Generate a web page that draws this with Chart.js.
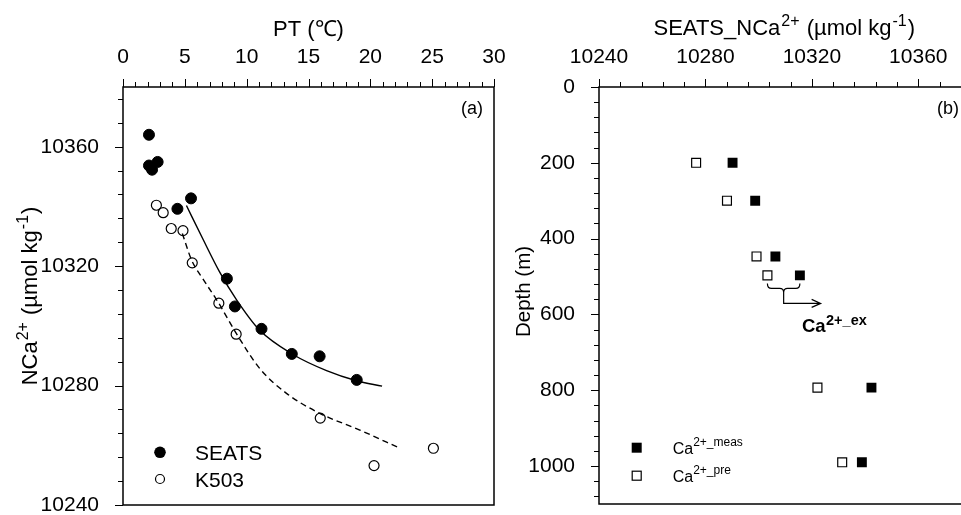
<!DOCTYPE html>
<html>
<head>
<meta charset="utf-8">
<script src="https://cdn.jsdelivr.net/npm/chart.js@4.4.1/dist/chart.umd.min.js"></script>
<style>
  html, body { margin: 0; padding: 0; background: #fff; overflow: hidden; }
  #wrap { position: relative; width: 961px; height: 515px; overflow: hidden; }
  canvas { position: absolute; top: 0; }
  #chartA { left: 0; }
  #chartB { left: 500px; }
</style>
</head>
<body>
<div id="wrap">
  <canvas id="chartA" width="540" height="515"></canvas>
  <canvas id="chartB" width="500" height="515"></canvas>
</div>
<script>
const FONT = '"Liberation Sans", Arial, Helvetica, sans-serif';

// (a) NCa vs potential temperature
const seatsPT  = [2.1, 2.1, 2.35, 2.8, 4.4, 5.5, 8.4, 9.05, 11.2, 13.65, 15.9, 18.9];
const seatsNCa = [10364, 10353.7, 10352.3, 10354.9, 10339.2, 10342.7, 10315.8, 10306.5, 10299, 10290.6, 10289.8, 10281.9];
const k503PT   = [2.7, 3.25, 3.9, 4.85, 5.6, 7.75, 9.15, 15.95, 20.3, 25.1];
const k503NCa  = [10340.4, 10337.9, 10332.6, 10331.9, 10321.1, 10307.6, 10297.2, 10269.1, 10253.2, 10259];
// fitted curves
const fitSeatsPT  = [5.13, 6.47, 7.82, 9.17, 11.06, 13.75, 16.46, 18.88, 20.95];
const fitSeatsNCa = [10340.3, 10329.0, 10318.0, 10308.8, 10298.5, 10290.4, 10285.0, 10281.6, 10279.8];
const fitK503PT   = [4.8, 5.55, 6.5, 7.74, 9.17, 11.06, 13.22, 15.91, 19.15, 22.39];
const fitK503NCa  = [10330.9, 10322.0, 10315.5, 10307.6, 10297.4, 10285.7, 10277.4, 10270.7, 10265.1, 10259.0];
const ptTicks  = [0, 5, 10, 15, 20, 25, 30];
const ncaTicks = [10240, 10280, 10320, 10360];

// (b) measured vs preformed Ca by depth
const depthM = [200, 300, 447, 497, 793, 990];
const caMeas = [10290.2, 10298.7, 10306.3, 10315.5, 10342.4, 10338.8];
const caPre  = [10276.5, 10288.1, 10299.2, 10303.3, 10322.1, 10331.4];
const caTicks    = [10240, 10280, 10320, 10360];
const depthTicks = [0, 200, 400, 600, 800, 1000];

function pts(xs, ys) { return xs.map((x, i) => ({ x: x, y: ys[i] })); }

// draws text made of [text, size, dy, gap] parts
function rich(ctx, parts, x, y, align, weight) {
  weight = weight || 'normal';
  let w = 0;
  parts.forEach(p => { ctx.font = weight + ' ' + p[1] + 'px ' + FONT; w += ctx.measureText(p[0]).width + (p[3] || 0) * 2; });
  let cx = align === 'center' ? x - w / 2 : (align === 'right' ? x - w : x);
  ctx.textAlign = 'left';
  ctx.textBaseline = 'alphabetic';
  ctx.fillStyle = '#000';
  parts.forEach(p => {
    ctx.font = weight + ' ' + p[1] + 'px ' + FONT;
    cx += p[3] || 0;
    ctx.fillText(p[0], cx, y + (p[2] || 0));
    cx += ctx.measureText(p[0]).width + (p[3] || 0);
  });
}

function richUp(ctx, parts, x, y) {
  ctx.save();
  ctx.translate(x, y);
  ctx.rotate(-Math.PI / 2);
  rich(ctx, parts, 0, 0, 'center');
  ctx.restore();
}

// frame + major/minor ticks on top and left axes
function drawFrame(chart, xMinor, xMajor, yMinor, yMajor) {
  const ctx = chart.ctx, a = chart.chartArea;
  const xs = chart.scales.x, ys = chart.scales.y;
  ctx.save();
  ctx.strokeStyle = '#000';
  ctx.lineWidth = 1.5;
  ctx.strokeRect(a.left, a.top, a.right - a.left, a.bottom - a.top);
  ctx.lineWidth = 1;
  ctx.beginPath();
  let n = Math.floor((xs.max - xs.min) / xMinor + 1e-6);
  for (let i = 0; i <= n; i++) {
    const v = xs.min + i * xMinor;
    const big = Math.abs((v - xs.min) % xMajor) < 1e-6;
    const px = Math.round(xs.getPixelForValue(v)) + 0.5;
    ctx.moveTo(px, a.top);
    ctx.lineTo(px, a.top - (big ? 8 : 5));
  }
  n = Math.floor((ys.max - ys.min) / yMinor + 1e-6);
  for (let i = 0; i <= n; i++) {
    const v = ys.min + i * yMinor;
    const big = Math.abs((v - ys.min) % yMajor) < 1e-6;
    const py = Math.round(ys.getPixelForValue(v)) + 0.5;
    ctx.moveTo(a.left, py);
    ctx.lineTo(a.left - (big ? 8 : 5), py);
  }
  ctx.stroke();
  ctx.restore();
}

function axisOpts(pos, min, max, tickVals, size, reverse) {
  return {
    type: 'linear', position: pos, min: min, max: max, reverse: !!reverse,
    grid: { display: false }, border: { display: false },
    afterBuildTicks: s => { s.ticks = tickVals.map(v => ({ value: v })); },
    ticks: { color: '#000', font: { family: FONT, size: 21 }, padding: pos === 'top' ? 9 : 16,
             maxRotation: 0, autoSkip: false, callback: v => String(v) },
    afterFit: s => {
      if (pos === 'top') s.height = size; else s.width = size;
      s.paddingLeft = 0; s.paddingRight = 0; s.paddingTop = 0; s.paddingBottom = 0;
    }
  };
}

Chart.defaults.animation = false;

// ---------- panel (a)
new Chart(document.getElementById('chartA'), {
  type: 'scatter',
  data: {
    datasets: [
      { label: 'fitSeats', data: pts(fitSeatsPT, fitSeatsNCa), showLine: true, pointRadius: 0,
        borderColor: '#000', borderWidth: 1.4, cubicInterpolationMode: 'monotone' },
      { label: 'fitK503', data: pts(fitK503PT, fitK503NCa), showLine: true, pointRadius: 0,
        borderColor: '#000', borderWidth: 1.4, borderDash: [6, 4], cubicInterpolationMode: 'monotone' },
      { label: 'SEATS', data: pts(seatsPT, seatsNCa), pointStyle: 'circle', pointRadius: 5.5,
        backgroundColor: '#000', borderColor: '#000', borderWidth: 1 },
      { label: 'K503', data: pts(k503PT, k503NCa), pointStyle: 'circle', pointRadius: 5,
        backgroundColor: '#fff', borderColor: '#000', borderWidth: 1.2 }
    ]
  },
  options: {
    responsive: false,
    events: [],
    layout: { padding: { left: 0, top: 0, right: 46, bottom: 10 } },
    plugins: { legend: { display: false }, tooltip: { enabled: false } },
    scales: {
      x: axisOpts('top', 0, 30, ptTicks, 87),
      y: axisOpts('left', 10240, 10380, ncaTicks, 123)
    }
  },
  plugins: [{
    id: 'decorA',
    afterDraw(chart) {
      const ctx = chart.ctx, a = chart.chartArea;
      drawFrame(chart, 1, 5, 8, 40);
      rich(ctx, [['PT (℃)', 22]], (a.left + a.right) / 2, a.top - 51, 'center');
      richUp(ctx, [['NCa', 22], ['2+', 16, -9, 1], [' (µmol kg', 22], ['-1', 16, -9, 1], [')', 22]], 37, (a.top + a.bottom) / 2);
      rich(ctx, [['(a)', 18]], a.right - 11, a.top + 27, 'right');
      // legend
      ctx.save();
      ctx.fillStyle = '#000'; ctx.strokeStyle = '#000';
      ctx.beginPath(); ctx.arc(a.left + 37, a.bottom - 52.7, 5.8, 0, Math.PI * 2); ctx.fill();
      ctx.fillStyle = '#fff'; ctx.lineWidth = 1.2;
      ctx.beginPath(); ctx.arc(a.left + 37, a.bottom - 26, 4.5, 0, Math.PI * 2); ctx.fill(); ctx.stroke();
      ctx.restore();
      rich(ctx, [['SEATS', 21]], a.left + 72, a.bottom - 45, 'left');
      rich(ctx, [['K503', 21]], a.left + 72, a.bottom - 18.5, 'left');
    }
  }]
});

// ---------- panel (b)
new Chart(document.getElementById('chartB'), {
  type: 'scatter',
  data: {
    datasets: [
      { label: 'meas', data: pts(caMeas, depthM), pointStyle: 'rect', pointRadius: 7,
        backgroundColor: '#000', borderColor: '#000', borderWidth: 0 },
      { label: 'pre', data: pts(caPre, depthM), pointStyle: 'rect', pointRadius: 6.3,
        backgroundColor: '#fff', borderColor: '#000', borderWidth: 1.2 }
    ]
  },
  options: {
    responsive: false,
    events: [],
    layout: { padding: { left: 0, top: 0, right: 28.5, bottom: 11 } },
    plugins: { legend: { display: false }, tooltip: { enabled: false } },
    scales: {
      x: axisOpts('top', 10240, 10380, caTicks, 87),
      y: axisOpts('left', 0, 1100, depthTicks, 99, true)
    }
  },
  plugins: [{
    id: 'decorB',
    afterDraw(chart) {
      const ctx = chart.ctx, a = chart.chartArea;
      const xs = chart.scales.x, ys = chart.scales.y;
      drawFrame(chart, 8, 40, 40, 200);
      rich(ctx, [['SEATS_NCa', 22], ['2+', 16, -9, 1], [' (µmol kg', 22], ['-1', 16, -9, 1], [')', 22]],
           (a.left + a.right) / 2 - 1, a.top - 52, 'center');
      richUp(ctx, [['Depth (m)', 20.5]], 30, (a.top + a.bottom) / 2 - 4);
      rich(ctx, [['(b)', 18]], a.right - 12.5, a.top + 27, 'right');

      // brace + arrow marking the excess at the 4th level
      const x1 = xs.getPixelForValue(caPre[3]), x2 = xs.getPixelForValue(caMeas[3]);
      const yp = ys.getPixelForValue(depthM[3]);
      const xm = (x1 + x2) / 2, y0 = yp + 8, y1 = yp + 13;
      ctx.save();
      ctx.strokeStyle = '#000'; ctx.lineWidth = 1.2;
      ctx.beginPath();
      ctx.moveTo(x1, y0);
      ctx.quadraticCurveTo(x1, y1, x1 + 4, y1);
      ctx.lineTo(xm - 4, y1);
      ctx.quadraticCurveTo(xm, y1, xm, y1 + 4);
      ctx.quadraticCurveTo(xm, y1, xm + 4, y1);
      ctx.lineTo(x2 - 4, y1);
      ctx.quadraticCurveTo(x2, y1, x2, y0);
      ctx.moveTo(xm, y1 + 4);
      const ya = yp + 28, xa = xm + 37;
      ctx.lineTo(xm, ya);
      ctx.lineTo(xa, ya);
      ctx.moveTo(xa - 9, ya - 4);
      ctx.lineTo(xa, ya);
      ctx.lineTo(xa - 9, ya + 4);
      ctx.stroke();
      ctx.restore();
      rich(ctx, [['Ca', 18.5], ['2+_ex', 14.5, -7, 0.5]], x2 + 2, yp + 57, 'left', 'bold');

      // legend
      const lx = a.left + 37.7;
      ctx.save();
      ctx.fillStyle = '#000';
      ctx.fillRect(lx - 5, a.bottom - 56.3 - 5, 10, 10);
      ctx.fillStyle = '#fff'; ctx.strokeStyle = '#000'; ctx.lineWidth = 1.2;
      ctx.fillRect(lx - 4.5, a.bottom - 28.3 - 4.5, 9, 9);
      ctx.strokeRect(lx - 4.5, a.bottom - 28.3 - 4.5, 9, 9);
      ctx.restore();
      rich(ctx, [['Ca', 16], ['2+_meas', 12, -8]], a.left + 73.7, a.bottom - 50, 'left');
      rich(ctx, [['Ca', 16], ['2+_pre', 12, -8]], a.left + 73.7, a.bottom - 22, 'left');
    }
  }]
});
</script>
</body>
</html>
